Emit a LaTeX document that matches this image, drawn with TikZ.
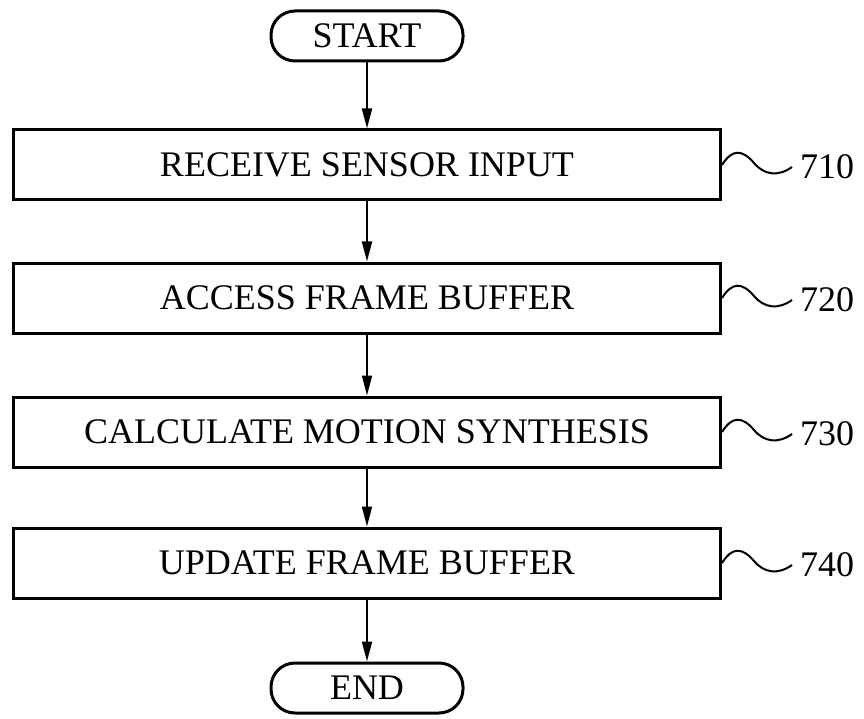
\documentclass[tikz,border=0pt]{standalone}
\usepackage{fontspec}
\setmainfont{Liberation Serif}
\usepackage{tikz}
\usetikzlibrary{arrows.meta}

\begin{document}
\begin{tikzpicture}[x=1pt, y=-1pt, font=\fontsize{36pt}{40pt}\selectfont,
	stepbox/.style={rectangle, draw, line width=3pt, minimum width=707pt, minimum height=70pt, inner sep=0pt},
	term/.style={rectangle, draw, line width=3pt, rounded corners=24pt, minimum width=192pt, minimum height=50pt, inner sep=0pt},
	lbl/.style={inner sep=8pt, anchor=west},
	flow/.style={line width=2pt, -{Triangle[length=20pt, width=10pt]}},
	lead/.style={line width=2pt}]
	\useasboundingbox (0,0) rectangle (864,719);
	% Nodes
	\node[term] (start) at (367,36) {START};
	\node[stepbox] (s710) at (367,165) {RECEIVE SENSOR INPUT};
	\node[stepbox] (s720) at (367,298) {ACCESS FRAME BUFFER};
	\node[stepbox] (s730) at (367,432) {CALCULATE MOTION SYNTHESIS};
	\node[stepbox] (s740) at (367,563) {UPDATE FRAME BUFFER};
	\node[term] (end) at (367,688) {END};
	% Labels
	\node[lbl] (l710) at (792,167) {710};
	\node[lbl] (l720) at (792,300) {720};
	\node[lbl] (l730) at (792,434) {730};
	\node[lbl] (l740) at (792,565) {740};
	% Edges
	\draw[flow] (start) -- (s710);
	\draw[flow] (s710) -- (s720);
	\draw[flow] (s720) -- (s730);
	\draw[flow] (s730) -- (s740);
	\draw[flow] (s740) -- (end);
	% Leads to labels
	\foreach \n in {710,720,730,740}
		\draw[lead] (s\n.east) .. controls +(10,-16) and +(-12,-14) .. ++(32,-2) .. controls +(10,12) and +(-14,10) .. (l\n.west);
\end{tikzpicture}
\end{document}
